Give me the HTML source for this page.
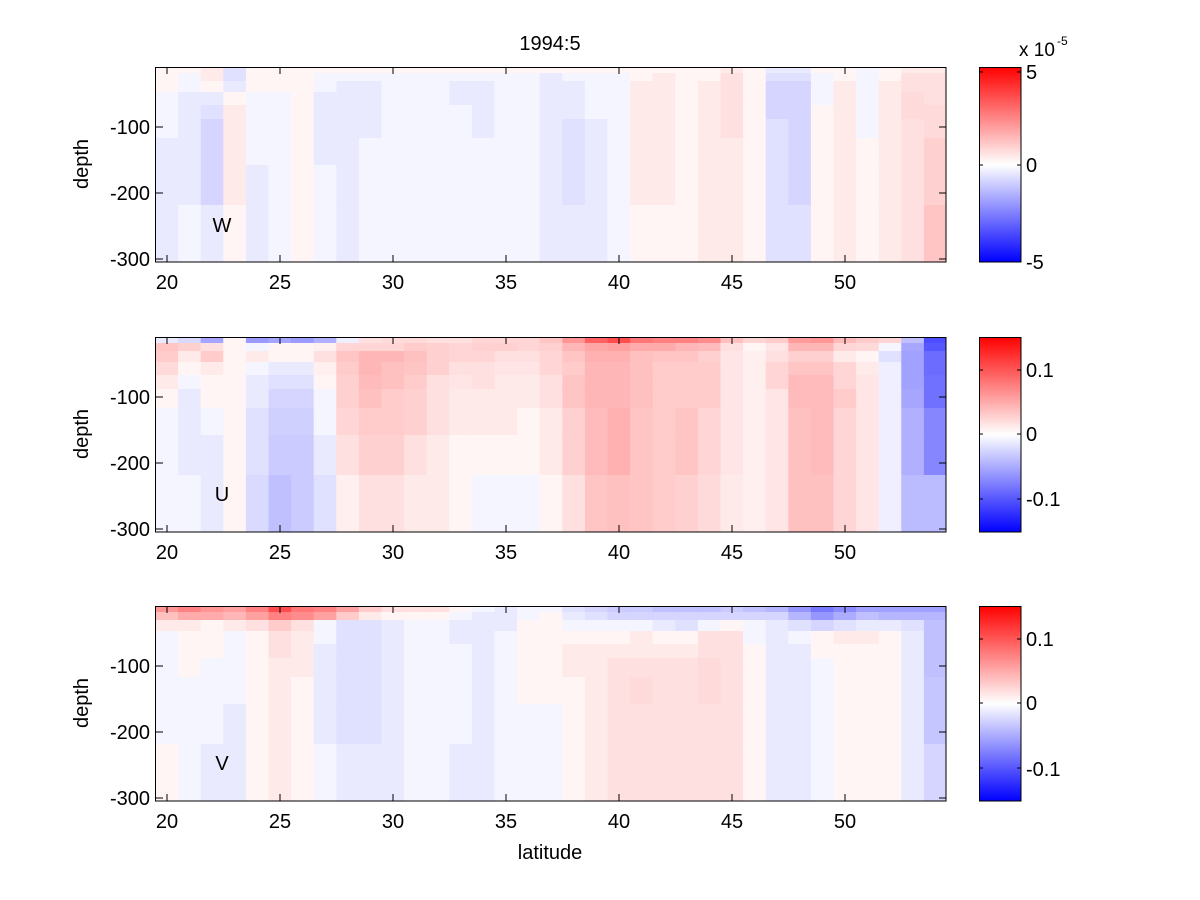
<!DOCTYPE html>
<html><head><meta charset="utf-8"><style>
body{margin:0;background:#fff;}
svg{display:block;font-family:"Liberation Sans",sans-serif;}
</style></head><body>
<svg id="s" width="1200" height="900" xmlns="http://www.w3.org/2000/svg">
<defs>
<linearGradient id="cb" x1="0" y1="1" x2="0" y2="0">
<stop offset="0" stop-color="#0000ff"/><stop offset="0.5" stop-color="#ffffff"/><stop offset="1" stop-color="#ff0000"/>
</linearGradient>
</defs>
<g id="cells"></g>
<g id="frames" fill="none" stroke="#000" stroke-width="1"></g>
<g font-size="20" fill="#000">
<text x="550" y="50" text-anchor="middle">1994:5</text>
<text x="550" y="859" text-anchor="middle">latitude</text>
<text x="222" y="232" text-anchor="middle">W</text>
<text x="222" y="501" text-anchor="middle">U</text>
<text x="222" y="770" text-anchor="middle">V</text>
<text transform="translate(88,164) rotate(-90)" text-anchor="middle">depth</text>
<text transform="translate(88,434) rotate(-90)" text-anchor="middle">depth</text>
<text transform="translate(88,703) rotate(-90)" text-anchor="middle">depth</text>
<text x="1019" y="56" font-size="19">x 10</text><text x="1057" y="45" font-size="12">-5</text>
<text x="1026" y="79">5</text>
<text x="1026" y="172">0</text>
<text x="1026" y="269">-5</text>
<text x="1026" y="377">0.1</text>
<text x="1026" y="441">0</text>
<text x="1026" y="506">-0.1</text>
<text x="1026" y="646">0.1</text>
<text x="1026" y="710">0</text>
<text x="1026" y="776">-0.1</text>
</g>
<g id="labels" font-size="20" fill="#000"></g>
</svg>
<script>
var P=[
// W
[[1,1,1,1,1,1,1,1,1,-1,-1,-1,-1,-2,-2,-2,-2,-2],
[1,-1,-1,-1,-1,-1,-1,-1,-1,1,-1,-1,-1,-1,-1,-1,-1,-1],
[2,2,1,-2,-3,-4,-4,-4,-2],
[-3,-3,-2,1,2,2,2,2,1],
[1,1,1,-1,-1,-1,-1,-2,-2],
[1,1,1,-1,-1,-1,-1,-1,-1],
[1,1,1,1,1,1,1,1,1],
[1,-1,-1,-2,-2,-2,-2,-1,-1],
[1,-1,-2,-2,-2,-2,-2,-2,-2],
[1,-1,-2,-2,-2,-2,-1,-1,-1],
[1,-1,-1,-1,-1,-1,-1,-1,-1],
[1,-1,-1,-1,-1,-1,-1,-1,-1],
[1,-1,-1,-1,-1,-1,-1,-1,-1],
[1,-1,-2,-2,-1,-1,-1,-1,-1],
[1,-1,-2,-2,-2,-2,-1,-1,-1],
[1,-1,-1,-1,-1,-1,-1,-1,-1],
[1,-1,-1,-1,-1,-1,-1,-1,-1],
[1,-2,-2,-2,-2,-2,-2,-2,-2],
[1,-1,-2,-2,-2,-3,-3,-3,-2],
[1,-1,-1,-1,-1,-2,-2,-2,-2],
[1,-1,-1,-1,-1,-1,-1,-1,-1],
[1,1,2,2,2,2,2,2,1],
[1,2,2,2,2,2,2,2,1],
[1,1,1,1,1,1,1,1,1],
[1,1,2,2,2,2,2,2,2],
[2,3,3,3,3,3,2,2,2],
[1,1,1,1,1,1,1,1,1],
[-2,-3,-4,-4,-4,-3,-3,-3,-3],
[-2,-3,-4,-4,-4,-4,-4,-4,-3],
[1,-1,-1,-1,1,1,1,1,1],
[1,1,2,2,2,2,2,2,2],
[-1,-1,-1,-1,-1,-1,1,1,1],
[1,1,2,2,2,2,2,2,2],
[2,3,3,3.5,3.5,3,3,3,3],
[2,3,3,3,3.5,3.5,4.5,4.5,5.5]],
// U
[[-2,5.5,5,3.5,2,1,-1,-1,-1],
[-3.5,4.5,2,1,-1,-2,-2,-2,-1],
[-8.5,3,5,2,1,1,-1,-2,-2],
[1,1,1,1,1,1,1,1,1],
[-9.5,-1,2,-1,-2,-2,-3,-3,-3.5],
[-8.5,1,1,-2,-3,-4,-4.5,-5,-6],
[-9.5,1,1,-2,-3,-4,-4.5,-5,-5],
[-7.5,1.5,3,1.5,1,-1,-1,-2,-3],
[-1.5,4,5.5,5,4.5,4.5,4,3,1.5],
[3,4,7,7,6.5,6,5,4.5,3],
[3.5,4,7,6,6,5,5,4.5,3],
[3.5,5,6,5.5,5,4.5,4.5,3,2],
[3,4.5,4.5,4.5,3,3,3,2,2],
[3,4,4,3,2.5,2,2,1,1],
[4,4.5,4,3,3,2,2,1,-1],
[4,4.5,3,2.5,2,2,2,1,-1],
[4,4,3,2.5,2,2,1,1,-1],
[5.5,4.5,4,4,3,3,2,2,1],
[10,7,5.5,5,5.5,5.5,4.5,4.5,3],
[15,8.5,7.5,7,7,7,6.5,6.5,5.5],
[17,9,7.5,7,7,7,7.5,7.5,6],
[13,8,6,6,6,6,5.5,5.5,5.5],
[12,8,5.5,5,5,5,5,5,5],
[12,7,5.5,5,5,5,5.5,5.5,4.5],
[11,6.5,4.5,5,5,5,4,4,3.5],
[6,3,2.5,2.5,2.5,2.5,2.5,2.5,2],
[4,1,1.5,1.5,1.5,1.5,1.5,1.5,1.5],
[5,2.5,3,4,4,2.5,2.5,2.5,2.5],
[9.5,7,4.5,5.5,6.5,6.5,6,6,6],
[10,7,4.5,5.5,6.5,6.5,6.5,6.5,6],
[6.5,4,2,4,4,5,4,4,4],
[5,3.5,1,2,2.5,2.5,2.5,2.5,2.5],
[4,-1,-3,-1.5,-1.5,-1.5,-1.5,-1.5,-1.5],
[-6,-8.5,-9,-9,-9,-8.5,-7.5,-7.5,-6.5],
[-17,-16,-14,-14,-13.5,-13.5,-11.5,-11.5,-6.5]],
// V
[[10,6,2,-1,-1,-1,-1,-1,1],
[12,8,2,1,1,1,-1,-1,-1],
[10,8,1,1,1,-1,-1,-1,-2],
[9,7,2,-1,-1,-1,-1,-2,-2],
[12,9,3,1,1,1,1,1,1],
[17,12,5,3,3,2,2,2,2],
[13,11,3,2,2,2,1,1,1],
[12,9,-1,-1,-2,-2,-2,-2,-1],
[9,5,-3,-3,-3,-3,-3,-3,-2],
[5,2,-3,-3,-3,-3,-3,-3,-2],
[3,1,-2,-2,-2,-2,-2,-2,-2],
[3,1,-1,-1,-1,-1,-1,-1,-1],
[3,1,-1,-1,-1,-1,-1,-1,-1],
[1,-1,-2,-2,-1,-1,-1,-1,-2],
[-1,-2,-2,-2,-2,-2,-2,-2,-2],
[-2,-2,-2,-1,-1,-1,-1,-1,-1],
[-1,-1,1,1,1,1,1,-1,-1],
[-1,1,1,1,1,1,1,-1,-1],
[-3,-2,-1,1,2,2,1,1,1],
[-4,-3,-1,1,2,2,2,2,2],
[-5,-4,-1,1,2,3,3,3,3],
[-5,-4,-1,2,2,3,3.5,3,3],
[-6,-4,-2,1,2,3,3,3,3],
[-6,-4,-3,1,2,3,3,3,3],
[-6,-4,-1,3,3,3.5,3.5,3,3],
[-5,-4,1,3,3,3,3,3,3],
[-6,-4,-1,-1,1,1,1,1,1],
[-7,-4,-2,-2,-2,-2,-2,-2,-2],
[-10,-7,-3,-1,-2,-2,-2,-2,-2],
[-13,-10,-4,1,1,-1,-1,-1,-1],
[-11,-8,-3,2,1,1,1,1,1],
[-9,-6,-2,2,1,1,1,1,1],
[-9,-7,-2,1,1,1,1,1,1],
[-9,-7,-3,-2,-2,-2,-2,-2,-2],
[-9,-7,-6,-6,-6,-6,-5.5,-5.5,-4]]
];
// fix panel W first two columns entered oddly: rebuild col0/col1
P[0][0]=[1,1,1,-1,-1,-1,-2,-2,-2];
P[0][1]=[1,-1,-1,-2,-2,-2,-2,-2,-1];
var tops=[67,337,606], R=[0,6,14,25,38,52,71,98,138,195];
var NS="http://www.w3.org/2000/svg";
function el(n,a,p){var e=document.createElementNS(NS,n);for(var k in a)e.setAttribute(k,a[k]);p.appendChild(e);return e;}
var g=document.getElementById('cells'),f=document.getElementById('frames'),L=document.getElementById('labels');
var x0=155.5,cw=22.6;
for(var p=0;p<3;p++){
 var t=tops[p];
 for(var c=0;c<35;c++){
  var col=P[p][c];
  for(var r=0;r<9;r++){
   var v=col[r]||0,d=Math.max(0,Math.min(255,Math.round(255-Math.abs(v)*10.5)));
   var fill=v>=0?'rgb(255,'+d+','+d+')':'rgb('+d+','+d+',255)';
   var xa=x0+c*cw,xb=(c==34)?946:x0+(c+1)*cw;
   el('rect',{x:xa,y:t+R[r],width:xb-xa+0.5,height:R[r+1]-R[r]+0.5,fill:fill},g);
  }
 }
 el('rect',{x:155.5,y:t+0.5,width:790.5,height:194.5},f);
 el('rect',{x:979,y:t,width:42,height:195,fill:'url(#cb)',stroke:'none'},g);
 el('rect',{x:979.5,y:t+0.5,width:41.5,height:194.5},f);
 for(var k=20;k<=50;k+=5){
  var x=167+22.6*(k-20);
  el('line',{x1:x,y1:t,x2:x,y2:t+7},f);el('line',{x1:x,y1:t+195,x2:x,y2:t+188},f);
  var tx=el('text',{x:x,y:t+222,'text-anchor':'middle'},L);tx.textContent=k;
 }
 var yt=[60,126,192],yl=['-100','-200','-300'];
 for(var i=0;i<3;i++){
  var y=t+yt[i];
  el('line',{x1:156,y1:y,x2:163,y2:y},f);el('line',{x1:946,y1:y,x2:939,y2:y},f);
  var ty=el('text',{x:150,y:y+7,'text-anchor':'end'},L);ty.textContent=yl[i];
 }
 var ct=p==0?[5,98,195]:[33,97,162];
 for(var i=0;i<3;i++){var y=t+ct[i];if(y>t&&y<t+195){el('line',{x1:1021,y1:y,x2:1017,y2:y},f);el('line',{x1:979,y1:y,x2:983,y2:y},f);}}
}
</script>
</body></html>
